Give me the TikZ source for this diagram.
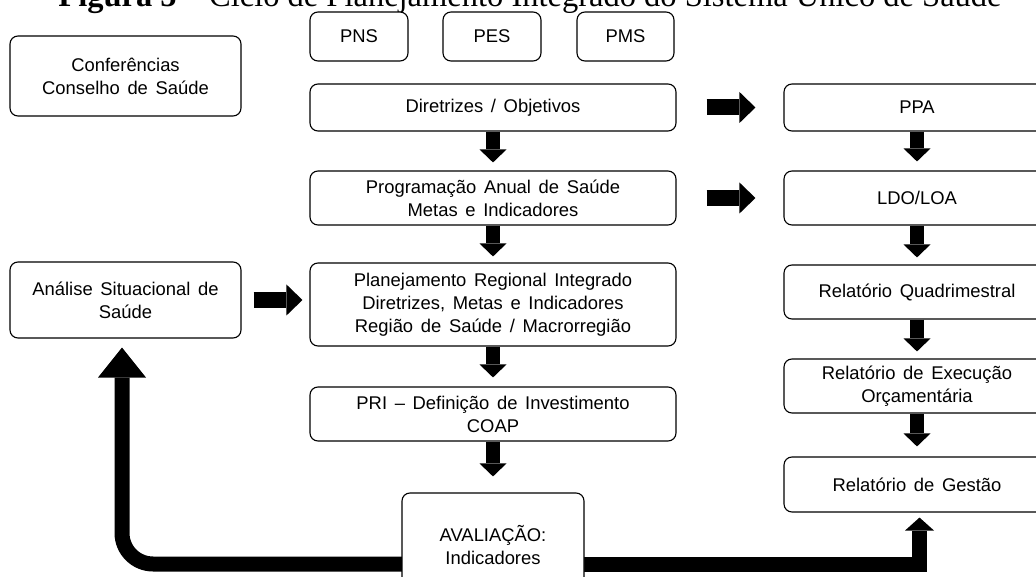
\documentclass[tikz,border=0pt]{standalone}
\usepackage{fontspec}
\setmainfont{Liberation Sans}
\newfontfamily\boxfont{Liberation Sans}[WordSpace=1.5]
\newfontfamily\titlefont{Liberation Serif}
\usetikzlibrary{arrows.meta,backgrounds}
\begin{document}
\begin{tikzpicture}[x=1pt,y=-1pt,
  box/.style={draw, line width=1.1pt, rounded corners=8pt, fill=white, align=center,
    inner sep=0pt, font=\boxfont\fontsize{18.4}{23}\selectfont},
  darrow/.style={line width=14pt, -{Triangle[width=27pt,length=13pt,line width=0pt]}},
  harrow/.style={line width=16pt, -{Triangle[width=31pt,length=16pt,line width=0pt]}},
  loopl/.style={line width=15pt, rounded corners=31pt, -{Triangle[width=48pt,length=30pt,line width=0pt]}},
  loopr/.style={line width=15pt, -{Triangle[width=29pt,length=13pt,line width=0pt]}}
]
\useasboundingbox (0,0) rectangle (1036,577);

\node[anchor=base, font=\titlefont\fontsize{32.5}{36}\selectfont] (title) at (530,7)
  {\textbf{Figura 5} – Ciclo de Planejamento Integrado do Sistema Único de Saúde};

\node[box, minimum width=231pt, minimum height=80pt] (conf) at (125.5,76) {Conferências\\Conselho de Saúde};
\node[box, minimum width=98pt, minimum height=49pt] (pns) at (359,36.5) {PNS};
\node[box, minimum width=98pt, minimum height=49pt] (pes) at (492,36.5) {PES};
\node[box, minimum width=97pt, minimum height=49pt] (pms) at (625.5,36.5) {PMS};
\node[box, minimum width=366pt, minimum height=47pt] (dir) at (493,107.5) {Diretrizes / Objetivos};
\node[box, minimum width=266pt, minimum height=47pt] (ppa) at (917,107.5) {PPA};
\node[box, minimum width=366pt, minimum height=54pt] (pas) at (493,198) {Programação Anual de Saúde\\Metas e Indicadores};
\node[box, minimum width=266pt, minimum height=54pt] (ldo) at (917,198) {LDO/LOA};
\node[box, minimum width=231pt, minimum height=76pt] (ana) at (125.5,300) {Análise Situacional de\\Saúde};
\node[box, minimum width=366pt, minimum height=83pt] (plan) at (493,304.5) {Planejamento Regional Integrado\\Diretrizes, Metas e Indicadores\\Região de Saúde / Macrorregião};
\node[box, minimum width=266pt, minimum height=54pt] (relq) at (917,292) {Relatório Quadrimestral};
\node[box, minimum width=266pt, minimum height=54pt] (rele) at (917,386) {Relatório de Execução\\Orçamentária};
\node[box, minimum width=266pt, minimum height=55pt] (relg) at (917,484.5) {Relatório de Gestão};
\node[box, minimum width=366pt, minimum height=54pt] (pri) at (493,414) {PRI – Definição de Investimento\\COAP};
\node[box, minimum width=182pt, minimum height=105pt] (aval) at (493,545.5) {AVALIAÇÃO:\\Indicadores};

% horizontal block arrows
\draw[harrow, shorten <=30pt, shorten >=28pt] (dir.east) -- (ppa.west);
\draw[harrow, shorten <=30pt, shorten >=28pt] (pas.east) -- (ldo.west);
\draw[harrow, shorten <=12pt, shorten >=7pt] (ana.east) -- (ana.east -| plan.west);

% vertical block arrows, middle column
\draw[darrow, shorten >=8pt] (dir.south) -- (pas.north);
\draw[darrow, shorten >=6pt] (pas.south) -- (plan.north);
\draw[darrow, shorten >=9pt] (plan.south) -- (pri.north);
\draw[darrow, shorten >=16pt] (pri.south) -- (aval.north);

% vertical block arrows, right column
\draw[darrow, shorten >=9pt] (ppa.south) -- (ldo.north);
\draw[darrow, shorten >=7pt] (ldo.south) -- (relq.north);
\draw[darrow, shorten >=7pt] (relq.south) -- (rele.north);
\draw[darrow, shorten >=10pt] (rele.south) -- (relg.north);

% feedback loops behind the evaluation box
\begin{scope}[on background layer]
\draw[loopl] ([yshift=-18.5pt]aval.center) -| ([xshift=-3.5pt,yshift=-9pt]ana.south);
\draw[loopr] ([yshift=-18.5pt]aval.center) -| ([xshift=2.5pt,yshift=-5pt]relg.south);
\end{scope}
\end{tikzpicture}
\end{document}
